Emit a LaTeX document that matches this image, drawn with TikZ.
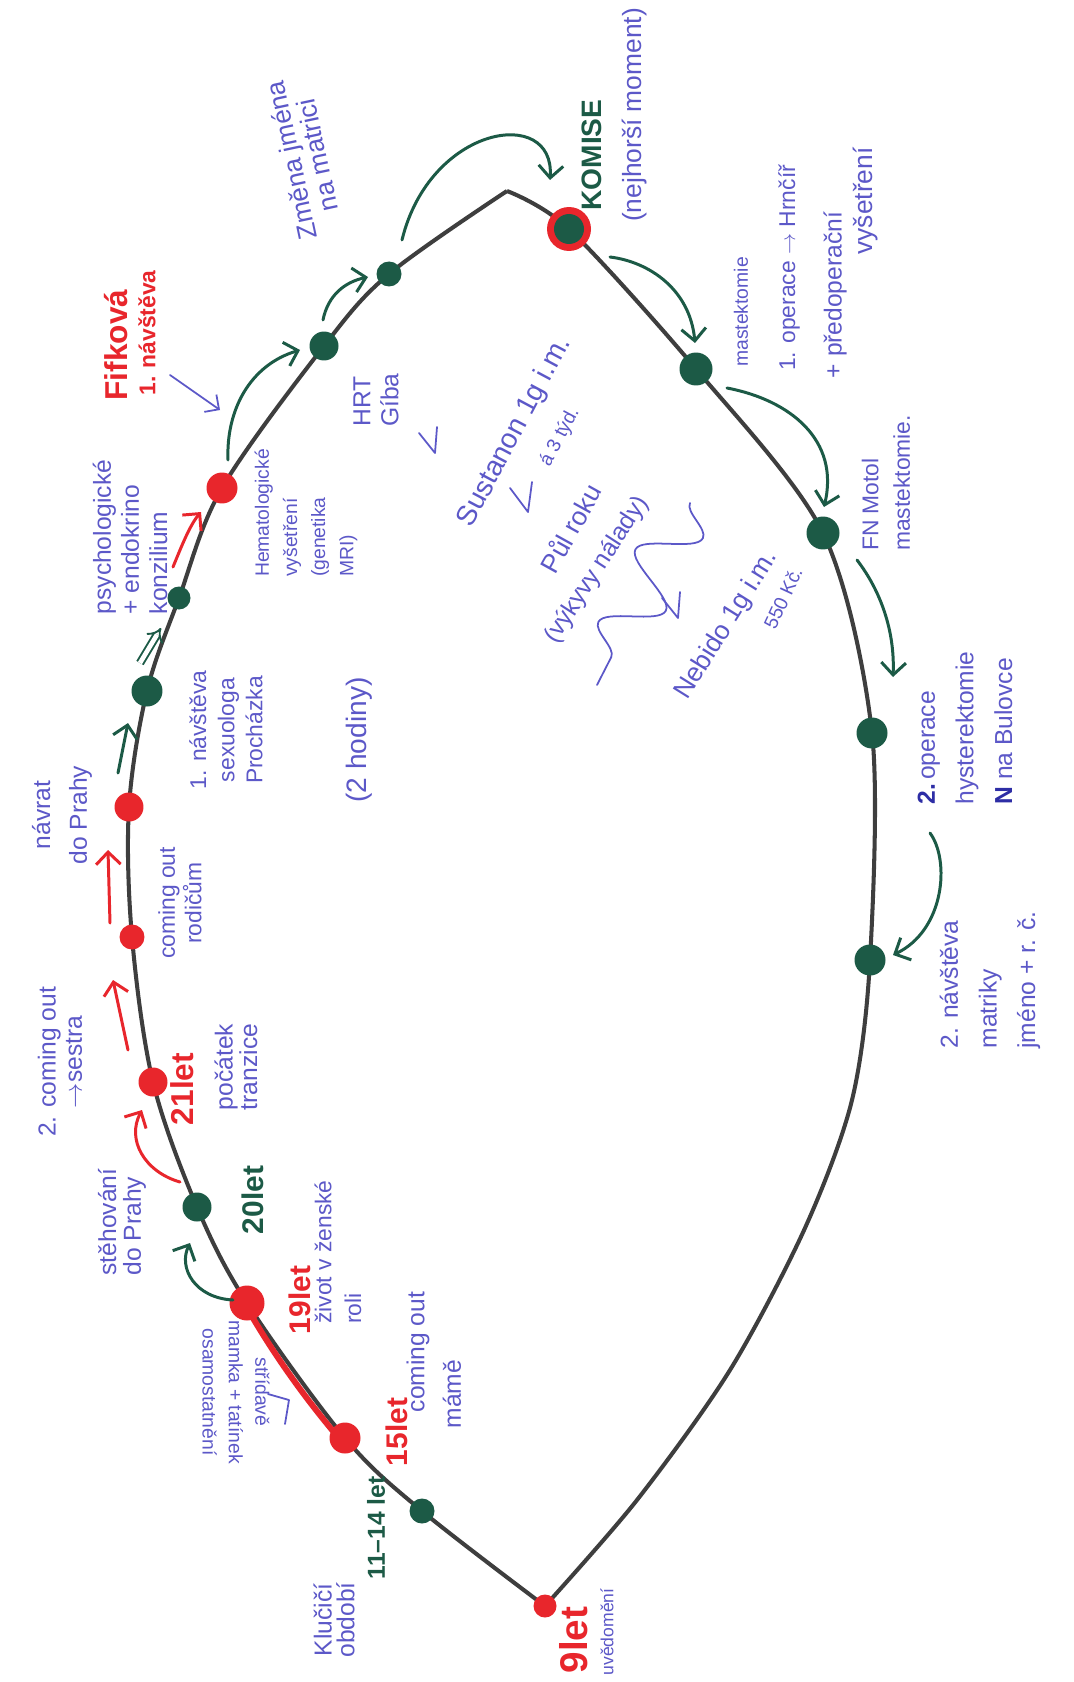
\documentclass[tikz,border=0pt]{standalone}
\usepackage{fontspec}
\setmainfont{Liberation Sans}
\usetikzlibrary{arrows.meta,decorations.pathmorphing}
\definecolor{hgreen}{RGB}{28,90,70}
\definecolor{hred}{RGB}{232,38,44}
\definecolor{hblue}{RGB}{92,88,200}
\definecolor{hdblue}{RGB}{45,45,165}
\definecolor{hline}{RGB}{62,62,62}
\newcommand{\hfs}[2]{\fontsize{#1}{#2}\selectfont}
\tikzset{
  outline/.style={draw=hline, line width=2.3pt, line join=round},
  gdot/.style={circle, fill=hgreen, inner sep=0pt},
  rdot/.style={circle, fill=hred, inner sep=0pt},
  garr/.style={draw=hgreen, line width=1.7pt, line cap=round, -{Straight Barb[length=7pt,width=14pt,line width=1.7pt]}},
  rarr/.style={draw=hred, line width=1.7pt, line cap=round, -{Straight Barb[length=7pt,width=14pt,line width=1.7pt]}},
  barr/.style={draw=hblue, line width=1pt, line cap=round, -{Straight Barb[length=6pt,width=12pt,line width=1pt]}},
  bline/.style={draw=hblue, line width=1pt, line cap=round, line join=round},
  bt/.style={text=hblue, inner sep=0pt, align=center},
  gt/.style={text=hgreen, inner sep=0pt, font=\bfseries},
  rt/.style={text=hred, inner sep=0pt, font=\bfseries},
}
\begin{document}
\begin{tikzpicture}[x=0.02cm,y=-0.02cm]
\useasboundingbox (0,0) rectangle (1074,1682);
\fill[white] (0,0) rectangle (1074,1682);

% points on the outline
\coordinate (p9) at (545,1606);
\coordinate (p11) at (422,1511);
\coordinate (p15) at (345,1438);
\coordinate (p19) at (247,1303);
\coordinate (p20) at (197,1207);
\coordinate (p21) at (153,1082);
\coordinate (pco) at (132,937);
\coordinate (pnv) at (129,807);
\coordinate (p1n) at (147,691);
\coordinate (pps) at (179,598);
\coordinate (phe) at (222,488);
\coordinate (phr) at (324,346);
\coordinate (pzm) at (389,274);
\coordinate (ptop) at (507,191);
\coordinate (pko) at (569,229);
\coordinate (pma) at (696,369);
\coordinate (pfn) at (823,533);
\coordinate (p2o) at (872,733);
\coordinate (p2n) at (870,960);
\coordinate (q1) at (852,1100);
\coordinate (q2) at (805,1228);
\coordinate (q3) at (730,1370);
\coordinate (q4) at (637,1500);

\draw[outline] plot[smooth, tension=0.55] coordinates {(p9) (p11) (p15) (p19) (p20) (p21) (pco) (pnv) (p1n) (pps) (phe) (phr) (pzm) (ptop)};
\draw[outline] plot[smooth, tension=0.5] coordinates {(ptop) (pko) (pma) (pfn) (p2o) (p2n) (q1) (q2) (q3) (q4) (p9)};

% red highlight between 19 and 15
\coordinate (h1) at (250,1313);
\coordinate (h2) at (338,1437);
\draw[hred, line width=3.4pt, line cap=round] (h1) .. controls (275,1356) and (305,1398) .. (h2);

% dots
\node[rdot, minimum size=0.46cm] (d9) at (p9) {};
\node[gdot, minimum size=0.5cm] (d11) at (p11) {};
\node[rdot, minimum size=0.62cm] (d15) at (p15) {};
\node[rdot, minimum size=0.7cm] (d19) at (p19) {};
\node[gdot, minimum size=0.58cm] (d20) at (p20) {};
\node[rdot, minimum size=0.58cm] (d21) at (p21) {};
\node[rdot, minimum size=0.5cm] (dco) at (pco) {};
\node[rdot, minimum size=0.58cm] (dnv) at (pnv) {};
\node[gdot, minimum size=0.62cm] (d1n) at (p1n) {};
\node[gdot, minimum size=0.46cm] (dps) at (pps) {};
\node[rdot, minimum size=0.62cm] (dhe) at (phe) {};
\node[gdot, minimum size=0.58cm] (dhr) at (phr) {};
\node[gdot, minimum size=0.5cm] (dzm) at (pzm) {};
\node[rdot, minimum size=0.88cm] (dkor) at (pko) {};
\node[gdot, minimum size=0.6cm] (dko) at (pko) {};
\node[gdot, minimum size=0.66cm] (dma) at (pma) {};
\node[gdot, minimum size=0.66cm] (dfn) at (pfn) {};
\node[gdot, minimum size=0.62cm] (d2o) at (p2o) {};
\node[gdot, minimum size=0.62cm] (d2n) at (p2n) {};

% arrow end points
\coordinate (aAs) at (233,1300); \coordinate (aAe) at (190,1243);
\coordinate (aBs) at (180,1182); \coordinate (aBe) at (142,1110);
\coordinate (aCs) at (128,1050); \coordinate (aCe) at (113,980);
\coordinate (aDs) at (110,923);  \coordinate (aDe) at (108,850);
\coordinate (aEs) at (118,773);  \coordinate (aEe) at (128,723);
\coordinate (aFs) at (140,663);  \coordinate (aFe) at (161,628);
\coordinate (aGs) at (173,567);  \coordinate (aGe) at (201,512);
\coordinate (aHs) at (228,460);  \coordinate (aHe) at (300,350);
\coordinate (aIs) at (323,320);  \coordinate (aIe) at (368,277);
\coordinate (aJs) at (402,240);  \coordinate (aJe) at (550,180);
\coordinate (aKs) at (610,257);  \coordinate (aKe) at (695,343);
\coordinate (aLs) at (727,388);  \coordinate (aLe) at (824,507);
\coordinate (aMs) at (857,560);  \coordinate (aMe) at (893,677);
\coordinate (aNs) at (930,833);  \coordinate (aNe) at (893,955);
\coordinate (aOs) at (170,375);  \coordinate (aOe) at (220,410);

\draw[garr] (aAs) .. controls (195,1298) and (178,1268) .. (aAe);
\draw[rarr] (aBs) .. controls (145,1172) and (126,1140) .. (aBe);
\draw[rarr] (aCs) -- (aCe);
\draw[rarr] (aDs) -- (aDe);
\draw[garr] (aEs) -- (aEe);
\draw[draw=hgreen, line width=1.1pt, double distance=2.6pt, -{Implies}] (aFs) -- (aFe);
\draw[rarr] (aGs) .. controls (182,545) and (190,525) .. (aGe);
\draw[garr] (aHs) .. controls (226,410) and (250,365) .. (aHe);
\draw[garr] (aIs) .. controls (328,295) and (345,282) .. (aIe);
\draw[garr] (aJs) .. controls (430,125) and (555,105) .. (aJe);
\draw[garr] (aKs) .. controls (650,262) and (690,290) .. (aKe);
\draw[garr] (aLs) .. controls (790,400) and (840,440) .. (aLe);
\draw[garr] (aMs) .. controls (880,590) and (895,630) .. (aMe);
\draw[garr] (aNs) .. controls (950,860) and (945,930) .. (aNe);
\draw[barr] (aOs) -- (aOe);

% blue marks
\draw[bline] (268,1394) -- (289,1400) -- (285,1424);
\draw[bline] (419,433) -- (435,453) -- (437,427);
\draw[bline] (510,488) -- (528,512) -- (532,482);
\draw[bline] (662,598) -- (678,618) -- (680,592);
\coordinate (w1) at (690,503); \coordinate (w2) at (597,685);
\draw[bline, decorate, decoration={snake, amplitude=0.55cm, segment length=1.63cm}] (w1) -- (w2);

% labels: left arc
\node[rt, font=\bfseries\hfs{22}{22}, rotate=90] (t9) at (574,1640) {9let};
\node[bt, font=\hfs{10}{10}, rotate=90] (tuv) at (607,1632) {uvědomění};
\node[bt, font=\hfs{14}{13}, rotate=90] (tkl) at (334,1620) {Klučičí\\období};
\node[gt, font=\bfseries\hfs{14}{14}, rotate=90] (t11) at (376,1528) {11–14 let};
\node[rt, font=\bfseries\hfs{17}{17}, rotate=90] (t15) at (397,1432) {15let};
\node[bt, font=\hfs{14}{14}, rotate=90] (tcm) at (418,1352) {coming out};
\node[bt, font=\hfs{14}{14}, rotate=90] (tcm2) at (452,1394) {mámě};
\node[bt, font=\hfs{11}{15}, rotate=-90] (tup) at (236,1392) {střídavě\\mamka + tatínek\\osamostatnění};
\node[rt, font=\bfseries\hfs{17}{17}, rotate=90] (t19) at (300,1300) {19let};
\node[bt, font=\hfs{13}{17}, rotate=90, align=left] (tzi) at (338,1252) {život v ženské\\roli};
\node[gt, font=\bfseries\hfs{17}{17}, rotate=90] (t20) at (253,1200) {20let};
\node[bt, font=\hfs{14}{14}, rotate=90, align=left] (tst) at (122,1222) {stěhování\\do Prahy};
\node[rt, font=\bfseries\hfs{18}{18}, rotate=90] (t21) at (182,1089) {21let};
\node[bt, font=\hfs{14}{14}, rotate=90] (tpo) at (236,1067) {počátek\\tranzice};
\node[bt, font=\hfs{14}{15}, rotate=90] (t2c) at (60,1062) {2. coming out\\$\rightarrow$sestra};
\node[bt, font=\hfs{13}{15}, rotate=90] (tcr) at (180,903) {coming out\\rodičům};
\node[bt, font=\hfs{14}{21}, rotate=90] (tnv) at (62,815) {návrat\\do Prahy};
\node[bt, font=\hfs{13}{16}, rotate=90] (t1n) at (226,730) {1. návštěva\\sexuologa\\Procházka};
\node[bt, font=\hfs{16}{16}, rotate=90] (t2h) at (359,740) {(2 hodiny)};
\node[bt, font=\hfs{14}{16}, rotate=90, align=left] (tps) at (130,537) {psychologické\\+ endokrino\\konzilium};
\node[rt, font=\bfseries\hfs{18}{18}, rotate=90] (tfi) at (116,345) {Fifková};
\node[rt, font=\bfseries\hfs{13}{13}, rotate=90] (tfi2) at (147,333) {1. návštěva};
\node[bt, font=\hfs{11}{16}, rotate=90, align=left] (the) at (306,513) {Hematologické\\vyšetření\\(genetika\\MRI)};
\node[bt, font=\hfs{14}{16}, rotate=90, align=left] (thr) at (376,400) {HRT\\Gíba};
\node[bt, font=\hfs{15}{13}, rotate=102] (tzm) at (304,158) {Změna jména\\na matrici};

% labels: right arc
\node[gt, font=\bfseries\hfs{16}{16}, rotate=90] (tko) at (592,155) {KOMISE};
\node[bt, font=\hfs{15}{15}, rotate=90] (tne) at (635,115) {(nejhorší moment)};
\node[bt, font=\hfs{11}{11}, rotate=90] (tma1) at (741,312) {mastektomie};
\node[bt, font=\hfs{13}{13}, rotate=90] (tma2) at (789,268) {1. operace $\rightarrow$ Hrnčíř};
\node[bt, font=\hfs{14}{14}, rotate=90] (tma3) at (835,295) {+ předoperační};
\node[bt, font=\hfs{15}{15}, rotate=90] (tma4) at (866,201) {vyšetření};
\node[bt, font=\hfs{13}{18}, rotate=90, align=left] (tfn) at (886,483) {FN Motol\\mastektomie.};
\node[bt, font=\hfs{14}{22}, rotate=90, align=left] (t2o) at (965,728) {\textcolor{hdblue}{\bfseries 2.}\,operace\\hysterektomie\\\textcolor{hdblue}{\bfseries N} na Bulovce};
\node[bt, font=\hfs{14}{22}, rotate=90, align=left] (t2n) at (990,980) {2. návštěva\\matriky\\jméno + r. č.};

% labels: middle
\node[bt, font=\hfs{16}{16}, rotate=62] (tsu) at (515,432) {Sustanon 1g i.m.};
\node[bt, font=\hfs{11}{11}, rotate=62] (tsu2) at (560,437) {á 3 týd.};
\node[bt, font=\hfs{15}{15}, rotate=61] (tpu) at (570,528) {Půl roku};
\node[bt, font=\hfs{14}{14}, rotate=57] (tvy) at (597,570) {(výkyvy nálady)};
\node[bt, font=\hfs{15}{15}, rotate=58] (tnb) at (727,625) {Nebido 1g i.m.};
\node[bt, font=\hfs{11}{11}, rotate=65] (tkc) at (783,598) {550 Kč.};
\end{tikzpicture}
\end{document}
